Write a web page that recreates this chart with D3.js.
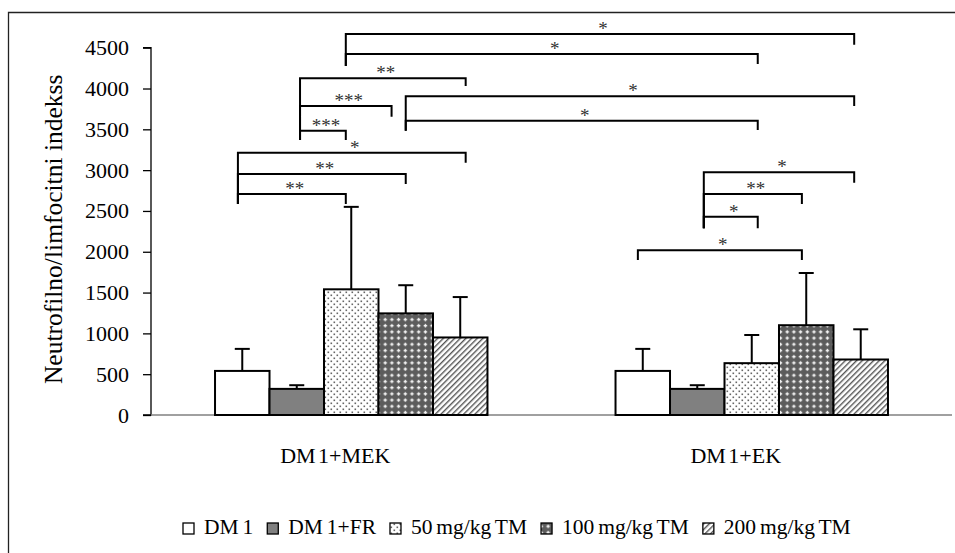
<!DOCTYPE html>
<html>
<head>
<meta charset="utf-8">
<script src="https://cdn.jsdelivr.net/npm/d3@7"></script>
<style>
  html, body { margin: 0; padding: 0; background: #fff; }
  svg { display: block; font-family: "Liberation Serif", "Times New Roman", serif; }
</style>
</head>
<body>
<svg id="chart" width="955" height="553"></svg>
<script>
// Groups and treatment series
const groups = ["DM 1+MEK", "DM 1+EK"];
const series = ["DM 1", "DM 1+FR", "50 mg/kg TM", "100 mg/kg TM", "200 mg/kg TM"];

// Mean values per group (same order as series)
const meanMEK = [540, 320, 1540, 1245, 950];
const meanEK  = [540, 320, 635, 1100, 680];

// Upper error (standard deviation) per group
const errMEK = [270, 45, 1010, 345, 495];
const errEK  = [270, 45, 345, 640, 370];

// Y-axis ticks
const yTicks = [0, 500, 1000, 1500, 2000, 2500, 3000, 3500, 4000, 4500];

// Significance brackets: from (group, bar slot) to (group, bar slot),
// horizontal level, bottom of left and right legs, label
const bracketFrom  = [[0, 1.9], [0, 1.9], [0, 1.06], [0, 1.06], [0, 1.06], [0, 3.0], [0, 3.0], [0, -0.08], [0, -0.08], [0, -0.08], [1, 1.12], [1, 1.12], [1, 1.12], [1, -0.09]];
const bracketTo    = [[1, 3.88], [1, 2.11], [0, 4.1], [0, 2.74], [0, 1.9], [1, 3.88], [1, 2.11], [0, 4.1], [0, 3.0], [0, 1.9], [1, 3.88], [1, 2.92], [1, 2.11], [1, 2.92]];
const bracketLevel = [4668, 4423, 4125, 3786, 3483, 3905, 3606, 3214, 2953, 2708, 2974, 2708, 2430, 2018];
const bracketLeftEnd  = [4276, 4276, 3369, 3369, 3369, 3483, 3483, 2585, 2585, 2585, 2287, 2287, 2287, 1899];
const bracketRightEnd = [4537, 4300, 4031, 3655, 3369, 3786, 3492, 3091, 2830, 2585, 2846, 2585, 2287, 1899];
const bracketLabel = ["*", "*", "**", "***", "***", "*", "*", "*", "**", "**", "*", "**", "*", "*"];

const yTitle = "Neutrofilno/limfocitni indekss";

const means = [meanMEK, meanEK];
const errs = [errMEK, errEK];

const svg = d3.select("#chart");
const plot = { left: 151, right: 952, top: 47.7, bottom: 415 };

// ---- fill patterns ----
const defs = svg.append("defs");

// fine grey dots
const pDots = defs.append("pattern").attr("id", "p-dots")
  .attr("patternUnits", "userSpaceOnUse").attr("width", 6).attr("height", 6);
pDots.append("rect").attr("width", 6).attr("height", 6).attr("fill", "#fff");
pDots.append("rect").attr("x", 0.5).attr("y", 0.5).attr("width", 1.6).attr("height", 1.6).attr("fill", "#666");
pDots.append("rect").attr("x", 3.5).attr("y", 3.5).attr("width", 1.6).attr("height", 1.6).attr("fill", "#666");

// dark checker with white crosses
const pDark = defs.append("pattern").attr("id", "p-dark")
  .attr("patternUnits", "userSpaceOnUse").attr("width", 6.7).attr("height", 6.2);
pDark.append("rect").attr("width", 6.7).attr("height", 6.2).attr("fill", "#5c5c5c");
pDark.append("rect").attr("x", 2.6).attr("y", 1.6).attr("width", 1.4).attr("height", 3.4).attr("fill", "#f4f4f4");
pDark.append("rect").attr("x", 1.6).attr("y", 2.6).attr("width", 3.4).attr("height", 1.4).attr("fill", "#f4f4f4");

// diagonal hatch
const pHatch = defs.append("pattern").attr("id", "p-hatch")
  .attr("patternUnits", "userSpaceOnUse").attr("width", 4).attr("height", 4)
  .attr("patternTransform", "rotate(45)");
pHatch.append("rect").attr("width", 4).attr("height", 4).attr("fill", "#fff");
pHatch.append("rect").attr("x", 0).attr("y", 0).attr("width", 1.4).attr("height", 4).attr("fill", "#555");

const fills = ["#ffffff", "#808080", "url(#p-dots)", "url(#p-dark)", "url(#p-hatch)"];

// ---- frame ----
svg.append("path")
  .attr("d", "M8.5,560 L8.5,12.5 L960,12.5")
  .attr("fill", "none").attr("stroke", "#222").attr("stroke-width", 1.3);

// ---- scales ----
const x0 = d3.scaleBand().domain(groups).range([plot.left, plot.right]).padding(0);
const x1 = d3.scaleBand().domain(series).range([0, x0.bandwidth()])
  .paddingInner(0).paddingOuter(1.175);
const y = d3.scaleLinear().domain([0, 4500]).range([plot.bottom, plot.top]);

// slot position (bar index, may be fractional) to pixel x
function slotX(g, s) {
  return x0(groups[g]) + x1(series[0]) + x1.step() * (s + 0.5);
}

// ---- axes ----
const yAxis = d3.axisLeft(y).tickValues(yTicks).tickSize(8).tickPadding(14).tickFormat(d3.format("d"));
const gy = svg.append("g").attr("transform", `translate(${plot.left},0)`).call(yAxis);
gy.select(".domain").attr("stroke", "#000").attr("stroke-width", 1.3)
  .attr("d", `M-8,${plot.top}H0V${plot.bottom}H-8`);
gy.selectAll(".tick line").attr("stroke", "#000").attr("stroke-width", 1.3);
gy.selectAll(".tick text").attr("font-size", 22).attr("fill", "#000")
  .attr("font-family", "Liberation Serif, Times New Roman, serif");

// x baseline
svg.append("line")
  .attr("x1", plot.left).attr("x2", plot.right)
  .attr("y1", y(0)).attr("y2", y(0))
  .attr("stroke", "#808080").attr("stroke-width", 1.5);

// group labels
svg.append("g").selectAll("text").data(groups).join("text")
  .attr("x", d => x0(d) + x0.bandwidth() / 2 - 16)
  .attr("y", 463)
  .attr("text-anchor", "middle")
  .attr("font-size", 22)
  .style("word-spacing", "-3px")
  .text(d => d);

// y title
svg.append("text")
  .attr("transform", `translate(62,${(plot.top + plot.bottom) / 2 - 2}) rotate(-90)`)
  .attr("text-anchor", "middle")
  .attr("font-size", 25.5)
  .text(yTitle);

// ---- bars ----
const barData = [];
groups.forEach((g, gi) => series.forEach((s, si) => {
  barData.push({ g, s, si, v: means[gi][si], e: errs[gi][si] });
}));

const gBars = svg.append("g");
// error bars first, bars drawn over them
gBars.selectAll("line.err").data(barData).join("line").attr("class", "err")
  .attr("x1", d => x0(d.g) + x1(d.s) + x1.bandwidth() / 2)
  .attr("x2", d => x0(d.g) + x1(d.s) + x1.bandwidth() / 2)
  .attr("y1", d => y(d.v)).attr("y2", d => y(d.v + d.e))
  .attr("stroke", "#000").attr("stroke-width", 2);
gBars.selectAll("line.cap").data(barData).join("line").attr("class", "cap")
  .attr("x1", d => x0(d.g) + x1(d.s) + x1.bandwidth() / 2 - 7.5)
  .attr("x2", d => x0(d.g) + x1(d.s) + x1.bandwidth() / 2 + 7.5)
  .attr("y1", d => y(d.v + d.e)).attr("y2", d => y(d.v + d.e))
  .attr("stroke", "#000").attr("stroke-width", 2);
gBars.selectAll("rect").data(barData).join("rect")
  .attr("x", d => x0(d.g) + x1(d.s))
  .attr("y", d => y(d.v))
  .attr("width", x1.bandwidth())
  .attr("height", d => y(0) - y(d.v))
  .attr("fill", d => fills[d.si])
  .attr("stroke", "#000").attr("stroke-width", 2);

// ---- significance brackets ----
const gBr = svg.append("g");
bracketLevel.forEach((lvl, i) => {
  const xa = slotX(bracketFrom[i][0], bracketFrom[i][1]);
  const xb = slotX(bracketTo[i][0], bracketTo[i][1]);
  gBr.append("path")
    .attr("d", `M${xa},${y(bracketLeftEnd[i])}V${y(lvl)}H${xb}V${y(bracketRightEnd[i])}`)
    .attr("fill", "none").attr("stroke", "#000").attr("stroke-width", 2);
  gBr.append("text")
    .attr("x", (xa + xb) / 2 + 3)
    .attr("y", y(lvl) + 1)
    .attr("text-anchor", "middle")
    .attr("font-size", 19)
    .attr("fill", "#333")
    .text(bracketLabel[i]);
});

// ---- legend ----
const legend = svg.append("g").attr("transform", "translate(183,523)");
let lx = 0;
series.forEach((s, i) => {
  legend.append("rect")
    .attr("x", lx).attr("y", 0).attr("width", 11).attr("height", 11)
    .attr("fill", fills[i]).attr("stroke", "#000").attr("stroke-width", 1.3);
  const t = legend.append("text")
    .attr("x", lx + 21).attr("y", 11)
    .attr("font-size", 21.5)
    .style("word-spacing", "-1.5px")
    .text(s);
  lx += 21 + t.node().getComputedTextLength() + 14;
});
</script>
</body>
</html>
